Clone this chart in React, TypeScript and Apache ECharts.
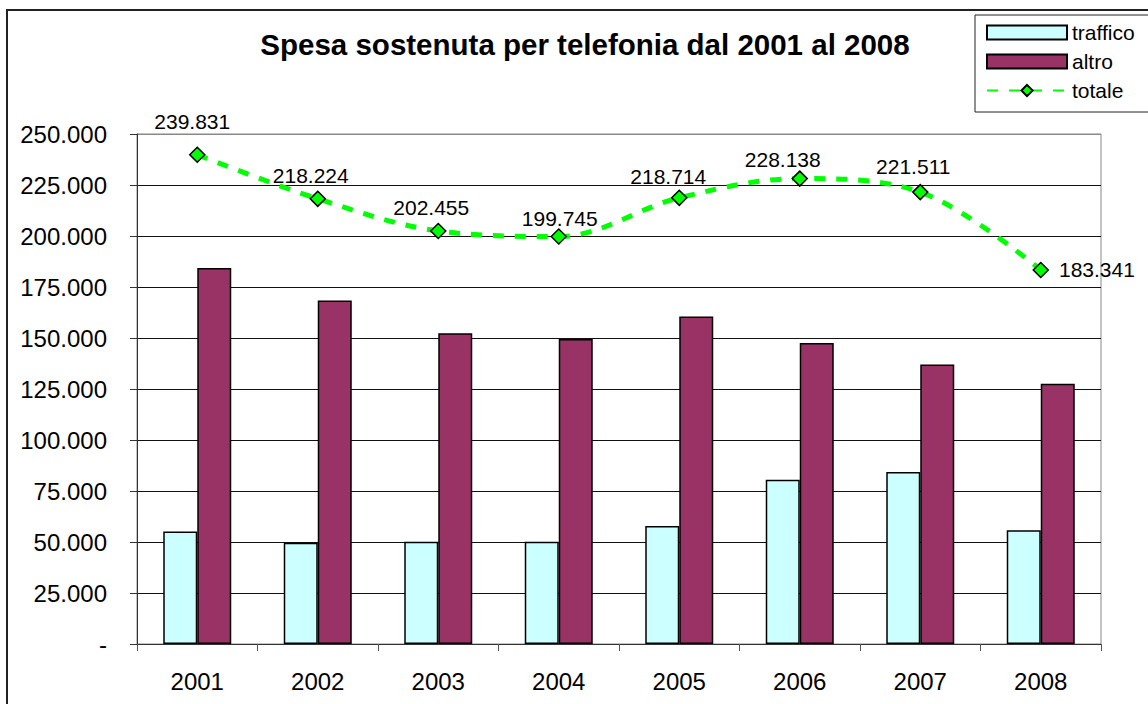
import React, { useEffect, useRef } from "react";
import * as echarts from "echarts";

const years = ["2001", "2002", "2003", "2004", "2005", "2006", "2007", "2008"];
const traffico = [55200, 49600, 50100, 50100, 57900, 80500, 84300, 55700];
const altro = [184300, 168400, 152300, 149500, 160600, 147500, 137000, 127600];
const totale = [239831, 218224, 202455, 199745, 218714, 228138, 221511, 183341];
const labelOffsets = [
  [-5, -9],
  [-7, 0],
  [-7, 0],
  [1, 6],
  [-11, 2],
  [-17, 5],
  [-7, -2],
  [0, 0],
];
const yTicks = [0, 25000, 50000, 75000, 100000, 125000, 150000, 175000, 200000, 225000, 250000];

const fmt = (v: number) => {
  if (v === 0) return "-";
  const s = Math.round(v).toString();
  return s.replace(/\B(?=(\d{3})+(?!\d))/g, ".");
};

const FONT = "Liberation Sans, Arial, sans-serif";

export default function App() {
  const ref = useRef<HTMLDivElement>(null);
  useEffect(() => {
    if (!ref.current) return;
    const chart = echarts.init(ref.current, undefined, { renderer: "svg" });
    const gridColors = yTicks.map((_, i) => (i === yTicks.length - 1 ? "#888" : "#111"));
    chart.setOption({
      animation: false,
      backgroundColor: "#fff",
      textStyle: { fontFamily: FONT, color: "#000" },
      title: {
        text: "Spesa sostenuta per telefonia dal 2001 al 2008",
        left: 580,
        textAlign: "center",
        top: 24,
        textStyle: { fontFamily: FONT, fontSize: 29.5, fontWeight: "bold", color: "#000" },
      },
      legend: {
        orient: "vertical",
        left: 975,
        top: 15,
        padding: [7, 40, 11, 11],
        itemWidth: 80,
        itemHeight: 14,
        itemGap: 8,
        borderColor: "#222",
        borderWidth: 1,
        backgroundColor: "#fff",
        textStyle: { fontFamily: FONT, fontSize: 21, color: "#000" },
        data: [
          { name: "traffico", icon: "rect", itemStyle: { borderColor: "#000", borderWidth: 2 } },
          { name: "altro", icon: "rect", itemStyle: { borderColor: "#000", borderWidth: 2 } },
          { name: "totale" },
        ],
      },
      grid: { left: 137, right: 47, top: 134, bottom: 60, show: true, borderColor: "#888", borderWidth: 1 },
      xAxis: {
        type: "category",
        data: years,
        axisLine: { show: true, lineStyle: { color: "#333", width: 1 } },
        axisTick: { show: true, length: 7, lineStyle: { color: "#555" } },
        axisLabel: { fontFamily: FONT, fontSize: 24, color: "#000", margin: 25 },
        splitLine: { show: false },
      },
      yAxis: {
        type: "value",
        min: 0,
        max: 250000,
        interval: 25000,
        axisLine: { show: true, lineStyle: { color: "#333", width: 1 } },
        axisTick: { show: true, length: 7, lineStyle: { color: "#333" } },
        axisLabel: { fontFamily: FONT, fontSize: 24, color: "#000", margin: 30, formatter: (v: number) => fmt(v) },
        splitLine: { show: true, lineStyle: { color: gridColors, width: 1 } },
      },
      series: [
        {
          name: "traffico",
          type: "bar",
          data: traffico,
          barWidth: 34,
          barGap: "0%",
          itemStyle: { color: "#ccffff", borderColor: "#000", borderWidth: 1.5 },
        },
        {
          name: "altro",
          type: "bar",
          data: altro,
          barWidth: 34,
          barGap: "0%",
          itemStyle: { color: "#993366", borderColor: "#000", borderWidth: 1.5 },
        },
        {
          name: "totale",
          type: "line",
          smooth: 0.35,
          data: totale.map((v, i) => ({
            value: v,
            label: {
              show: true,
              position: i === totale.length - 1 ? "right" : "top",
              offset: labelOffsets[i],
              distance: i === totale.length - 1 ? 10 : 5,
            },
          })),
          symbol: "diamond",
          symbolSize: 15,
          lineStyle: { color: "#00ff00", width: 5, type: [11, 11] },
          itemStyle: { color: "#00ff00", borderColor: "#000", borderWidth: 1.5 },
          label: {
            fontFamily: FONT,
            fontSize: 21,
            color: "#000",
            formatter: (p: any) => fmt(p.value),
          },
          z: 5,
        },
      ],
      graphic: [
        {
          type: "rect",
          shape: { x: 7, y: 10, width: 1200, height: 800 },
          style: { fill: "none", stroke: "#222", lineWidth: 2 },
          silent: true,
          z: 100,
        },
      ],
    });
    return () => chart.dispose();
  }, []);
  return (
    <div
      ref={ref}
      style={{ position: "fixed", left: 0, top: 0, width: 1148, height: 704 }}
    />
  );
}
